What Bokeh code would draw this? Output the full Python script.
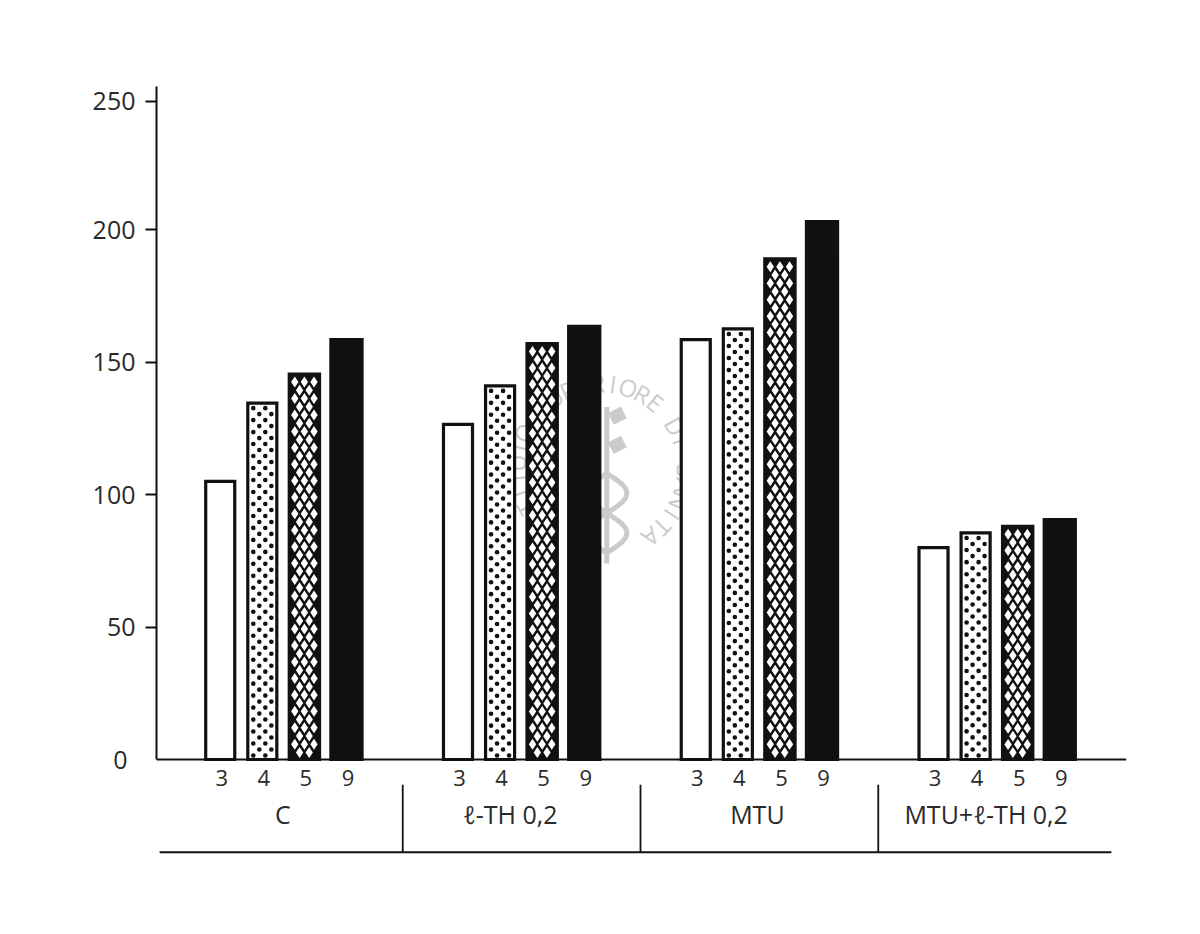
import math
from bokeh.embed import file_html
from bokeh.resources import INLINE
from bokeh.plotting import figure
from bokeh.models import FactorRange, FixedTicker, Range1d, LinearAxis
from bokeh.core.properties import value

# ---------- data ----------
groups = ["C", "ℓ-TH 0,2", "MTU", "MTU+ℓ-TH 0,2"]
samples = ["3", "4", "5", "9"]
v_c = [105, 134.5, 145.5, 158.5]
v_th = [126.5, 141, 157, 163.5]
v_mtu = [158.5, 162.5, 189, 203]
v_mix = [80, 85.5, 88, 90.5]
y_ticks = [50, 100, 150, 200, 248.5]
y_tick_labels = ["50", "100", "150", "200", "250"]
zero_tick = [0]
stamp_text = "ISTITUTO SUPERIORE DI SANITA"

# ---------- scale helpers (one screen pixel in each axis' units) ----------
PX_X = 1 / 42      # slot = 42 px
PX_Y = 1 / 2.65    # 2.65 px per y unit
ink = "#111111"
grey = "#cbcbcb"
text_ink = "#2a2a2a"

factors = [(g, s) for g in groups for s in samples]
values = v_c + v_th + v_mtu + v_mix
x_range = FactorRange(*factors, group_padding=1.65, factor_padding=0.0,
                      range_padding=1.05, range_padding_units="absolute")
y_range = Range1d(-45.66, 254)

p = figure(width=1138, height=900, x_range=x_range, y_range=y_range,
           output_backend="svg", toolbar_location=None,
           min_border_left=156, min_border_top=86, min_border_right=12, min_border_bottom=20,
           outline_line_color=None, background_fill_color="white")
p.grid.visible = False

# ---------- faint library stamp behind the chart ----------
anchor = (groups[1], samples[3])           # slot centred at page x 584.5
cx_off, cy_val, R = 15.5 * PX_X, 110, 85   # stamp centre
sx, sy, sa, st = [], [], [], []
for i, ch in enumerate(stamp_text):
    th = math.radians(-139 + i * 10.5)
    sx.append((*anchor, cx_off + R * math.sin(th) * PX_X))
    sy.append(cy_val + R * math.cos(th) * PX_Y)
    sa.append(-th)
    st.append(ch)
p.text(x=sx, y=sy, text=st, angle=sa, text_font=value("Open Sans"), text_font_size="24px",
       text_color=grey, text_align="center", text_baseline="middle")
staff = (*anchor, 21 * PX_X)
p.segment(x0=[staff], x1=[staff], y0=[74], y1=[133], line_color=grey, line_width=5)
for yy in (118.5, 129.5):
    p.segment(x0=[(*anchor, 25 * PX_X)], x1=[(*anchor, 38 * PX_X)], y0=[yy - 1], y1=[yy + 1.5],
              line_color=grey, line_width=13)
for sign in (1, -1):
    ts = [k / 40 for k in range(41)]
    p.line(x=[(*anchor, (21 + sign * 20 * math.sin(t * 2 * math.pi)) * PX_X) for t in ts],
           y=[78 + 30 * t for t in ts], line_color=grey, line_width=5)

# ---------- bars ----------
shift = -1.5 * PX_X
bar_width = {"3": 0.69, "4": 0.69, "5": 0.72, "9": 0.74}
bar_fill = {"3": "white", "4": "white", "5": ink, "9": ink}
for s in samples:
    xs = [(*f, shift) for f in factors if f[1] == s]
    tops = [v for v, f in zip(values, factors) if f[1] == s]
    p.vbar(x=xs, top=tops, bottom=0, width=bar_width[s], fill_color=bar_fill[s],
           line_color=ink, line_width=3.2, line_join="miter")

# ---------- patterns: staggered dots and lattice cells ----------
dx_, dy_, lx_, ly_ = [], [], [], []
for f, v in zip(factors, values):
    h_px = v / PX_Y
    if f[1] == "4":
        n = round((h_px - 9) / 6)
        pitch = (h_px - 9) / n
        for k in range(n + 1):
            for c in ((-9, 3) if k % 2 == 0 else (-3, 9)):
                dx_.append((*f, shift + c * PX_X))
                dy_.append(v - (5 + k * pitch) * PX_Y)
    elif f[1] == "5":
        n = round((h_px - 15) / 8.2)
        pitch = (h_px - 15) / n
        for k in range(n + 1):
            for c in ((-9.6, 0, 9.6) if k % 2 == 0 else (-4.8, 4.8)):
                lx_.append((*f, shift + c * PX_X))
                ly_.append(v - (8 + k * pitch) * PX_Y)
p.scatter(x=dx_, y=dy_, marker="circle", size=4.6, fill_color=ink, line_color=None)
p.scatter(x=lx_, y=ly_, marker="diamond", size=11, fill_color="white", line_color=None)

# ---------- axes ----------
xa = p.xaxis[0]
xa.fixed_location = 0
xa.axis_line_color = ink
xa.axis_line_width = 2
xa.major_tick_line_color = None
xa.minor_tick_line_color = None
xa.major_label_text_font = "Open Sans"
xa.major_label_text_font_size = "22px"
xa.major_label_text_color = text_ink
xa.major_label_standoff = 4
xa.group_text_color = None
xa.separator_line_color = None

ya = p.yaxis[0]
ya.bounds = (0, 254)
ya.ticker = FixedTicker(ticks=y_ticks)
ya.major_label_overrides = {t: l for t, l in zip(y_ticks, y_tick_labels)}
ya.minor_tick_line_color = None
ya.axis_line_color = ink
ya.axis_line_width = 2
ya.major_tick_line_color = ink
ya.major_tick_line_width = 2
ya.major_tick_out = 11
ya.major_tick_in = 0
ya.major_label_text_font = "Open Sans"
ya.major_label_text_font_size = "25px"
ya.major_label_text_color = text_ink
ya.major_label_standoff = 10

# the 0 has no tick in the reference: it gets its own tickless axis
ya0 = LinearAxis(ticker=FixedTicker(ticks=zero_tick), axis_line_color=None,
                 major_tick_line_color=None, minor_tick_line_color=None,
                 major_tick_out=0, major_tick_in=0, major_label_standoff=-38,
                 major_label_text_font="Open Sans", major_label_text_font_size="25px",
                 major_label_text_color=text_ink)
p.add_layout(ya0, "left")

# ---------- group labels, separators and footer rule ----------
label_shift = [-2, -12.5, -3, -12]
label_x = [(g, "4", (0.5 + d / 42)) for g, d in zip(groups, label_shift)]
p.text(x=label_x, y=[-20.75] * 4, text=groups, text_font=value("Open Sans"), text_font_size="25px",
       text_color=text_ink, text_align="center", text_baseline="middle")

sep_y0, sep_y1, foot_y = -9.5, -35, -35
off = 0.5 + 1.65 / 2
sep_x = [(g, "9", off - 1 * PX_X) for g in groups[:3]]
p.segment(x0=sep_x, x1=sep_x, y0=[sep_y0] * 3, y1=[sep_y1] * 3, line_color=ink, line_width=1.8)
p.segment(x0=[(groups[0], "3", -1.476)], x1=[(groups[3], "9", 1.19)], y0=[foot_y], y1=[foot_y],
          line_color=ink, line_width=2)

open("out.html", "w").write(file_html(p, INLINE))
